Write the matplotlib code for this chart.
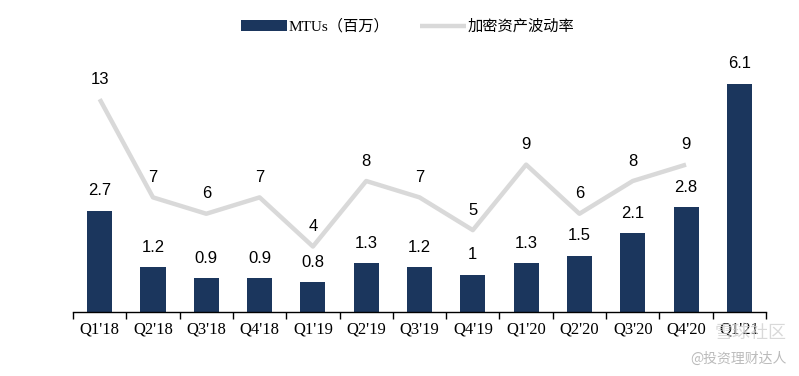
import numpy as np
import matplotlib.pyplot as plt
from matplotlib.ticker import FixedLocator

# quarters, MTUs (millions), crypto volatility
quarters = ["Q1'18", "Q2'18", "Q3'18", "Q4'18", "Q1'19", "Q2'19", "Q3'19",
            "Q4'19", "Q1'20", "Q2'20", "Q3'20", "Q4'20", "Q1'21"]
mtus = [2.7, 1.2, 0.9, 0.9, 0.8, 1.3, 1.2, 1, 1.3, 1.5, 2.1, 2.8, 6.1]
vol = [13, 7, 6, 7, 4, 8, 7, 5, 9, 6, 8, 9]

bar_color = '#1B365D'
line_color = '#D9D9D9'

fig = plt.figure(figsize=(7.99, 3.76), dpi=100, facecolor='white')
ax = fig.add_axes([0.0914, 0.1702, 0.8673, 0.6968])
x = np.arange(len(quarters))

bars = ax.bar(x, mtus, width=0.47, color=bar_color, label='MTUs（百万）', zorder=2)
ax.set_ylim(0, 7)
ax.set_xlim(-0.5, len(quarters) - 0.5)

ax2 = ax.twinx()
ln, = ax2.plot(x[:len(vol)], vol, color=line_color, lw=3.2, label='加密资产波动率',
               solid_capstyle='butt', zorder=3)
ax2.set_ylim(0, 16)

for a in (ax, ax2):
    for s in ('top', 'right', 'left'):
        a.spines[s].set_visible(False)
    a.set_yticks([])
ax2.spines['bottom'].set_visible(False)
ax.spines['bottom'].set_color('black')
ax.spines['bottom'].set_linewidth(1.0)

# labels under centers, tick marks at category boundaries
ax.set_xticks(x)
ax.set_xticklabels(quarters, fontsize=12, family='Liberation Serif')
ax.tick_params(axis='x', which='major', length=0, pad=7)
ax.xaxis.set_minor_locator(FixedLocator(np.arange(-0.5, len(quarters), 1.0)))
ax.tick_params(axis='x', which='minor', length=5, width=1, color='black')

for xi, v in zip(x, mtus):
    ax.annotate(f'{v:g}', (xi, v), xytext=(0, 9), textcoords='offset points',
                ha='center', va='bottom', fontsize=12, family='Liberation Sans')
for xi, v in zip(x, vol):
    ax2.annotate(f'{v:g}', (xi, v), xytext=(0, 9), textcoords='offset points',
                 ha='center', va='bottom', fontsize=12, family='Liberation Sans')

fig.legend([bars, ln], ['MTUs（百万）', '加密资产波动率'], loc='upper center',
           bbox_to_anchor=(0.51, 0.985), ncol=2, frameon=False, handlelength=3.0,
           handletextpad=0.1, columnspacing=2.0,
           prop={'family': ['Liberation Serif', 'Noto Sans CJK SC'], 'size': 11})

# watermark
fig.text(0.985, 0.115, '雪球社区', ha='right', va='center', fontsize=13,
         color='#D0D0D0', alpha=0.8, family=['Noto Sans CJK SC', 'DejaVu Sans'])
fig.text(0.985, 0.045, '@投资理财达人', ha='right', va='center', fontsize=10,
         color='#BBBBBB', family=['Noto Sans CJK SC', 'DejaVu Sans'])

fig.savefig('out.png', dpi=100, facecolor='white')
